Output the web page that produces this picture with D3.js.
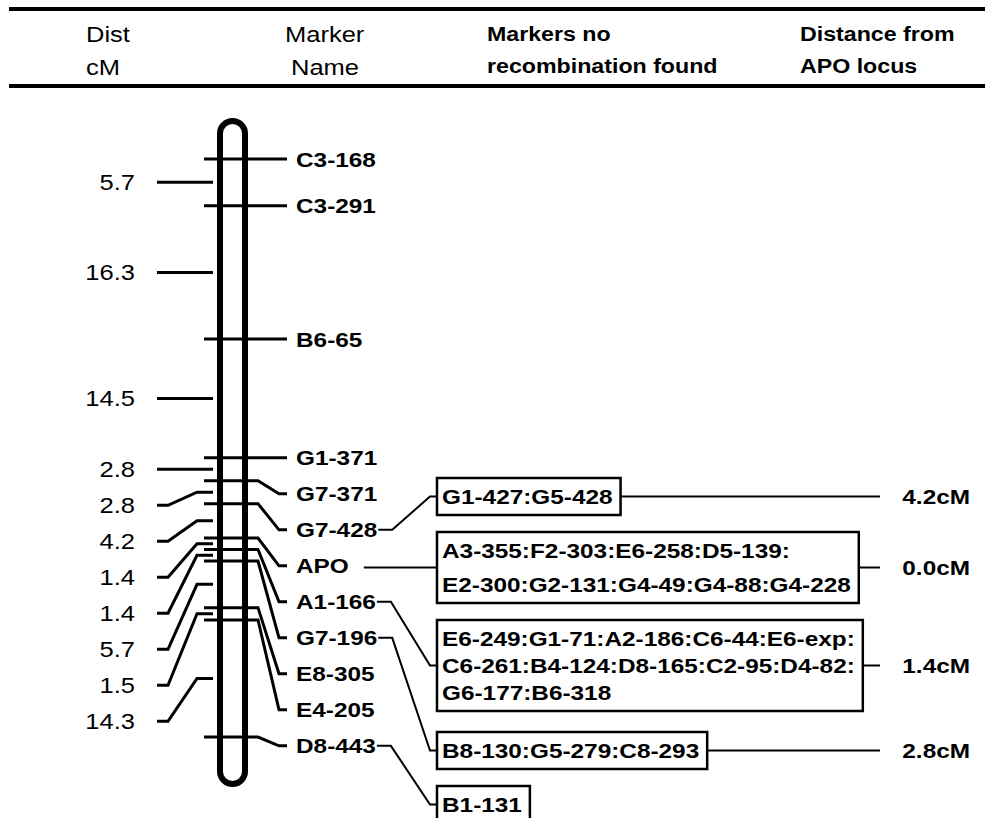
<!DOCTYPE html>
<html><head><meta charset="utf-8">
<script src="https://cdn.jsdelivr.net/npm/d3@7"></script>
<style>body{margin:0;background:#fff} svg{display:block}</style>
</head><body>
<svg id="chart" width="985" height="818"></svg>
<script>
// ---------------- data ----------------
const markerNames = ["C3-168","C3-291","B6-65","G1-371","G7-371","G7-428","APO","A1-166","G7-196","E8-305","E4-205","D8-443"];
const intervalsCM = [5.7,16.3,14.5,2.8,2.8,4.2,1.4,1.4,5.7,1.5,14.3];
const headerLeft = [["Dist","cM"],["Marker","Name"]];
const headerRight = [["Markers no","recombination found"],["Distance from","APO locus"]];
const boxMarkers = ["G7-428","APO","A1-166","G7-196","D8-443"];
const boxTexts = [
  ["G1-427:G5-428"],
  ["A3-355:F2-303:E6-258:D5-139:","E2-300:G2-131:G4-49:G4-88:G4-228"],
  ["E6-249:G1-71:A2-186:C6-44:E6-exp:","C6-261:B4-124:D8-165:C2-95:D4-82:","G6-177:B6-318"],
  ["B8-130:G5-279:C8-293"],
  ["B1-131"]
];
const boxDistances = ["4.2cM","0.0cM","1.4cM","2.8cM",null];

(function () {
// ---------------- setup ----------------
const SX = 1.16;
const FONT = "'Liberation Sans', Arial, Helvetica, sans-serif";
const svg = d3.select("#chart").attr("font-family", FONT);

function txt(s, x, yy, size, weight, anchor) {
  return svg.append("text")
    .attr("transform", `translate(${x},${yy}) scale(${SX},1)`)
    .attr("font-size", size).attr("font-weight", weight)
    .attr("text-anchor", anchor || "start").attr("fill", "#000").text(s);
}
const tw = sel => sel.node().getComputedTextLength() * SX;

// header rules
[9, 86].forEach(yy => svg.append("line").attr("x1", 9).attr("x2", 985).attr("y1", yy).attr("y2", yy)
  .attr("stroke", "#000").attr("stroke-width", 4));
const hxL = [86, 285], hxR = [487, 800];
headerLeft.forEach((h, i) => {
  txt(h[0], hxL[i], 42, 22, "normal");
  txt(h[1], hxL[i] + (i === 1 ? 6 : 0), 75, 22, "normal");
});
headerRight.forEach((h, i) => {
  txt(h[0], hxR[i], 41, 20, "bold");
  txt(h[1], hxR[i], 73, 20, "bold");
});

// scale
const cum = [0, ...d3.cumsum(intervalsCM)];
const total = d3.sum(intervalsCM);
const y = d3.scaleLinear().domain([0, total]).range([159, 737]);
const LBL = 36;

// chromosome
svg.append("rect").attr("x", 220).attr("y", y(0) - 38).attr("width", 25)
  .attr("height", y(total) - y(0) + 85).attr("rx", 12.5)
  .attr("fill", "none").attr("stroke", "#000").attr("stroke-width", 6);

// left interval marks
let prev = -1e9;
const mids = intervalsCM.map((d, i) => (y(cum[i]) + y(cum[i + 1])) / 2);
const leftLbl = mids.map(m => { const v = Math.max(m, prev + LBL); prev = v; return v; });
intervalsCM.forEach((d, i) => {
  const m = mids[i], l = leftLbl[i];
  const p = d3.path();
  if (Math.abs(l - m) < 0.5) { p.moveTo(157, m); p.lineTo(213, m); }
  else { p.moveTo(157, l); p.lineTo(168, l); p.lineTo(197, m); p.lineTo(213, m); }
  svg.append("path").attr("d", p.toString()).attr("fill", "none").attr("stroke", "#000").attr("stroke-width", 3);
  txt(d.toFixed(1), 135, l + 8, 22, "normal", "end");
});

// marker ticks + labels
prev = -1e9;
const pos = cum.map(c => y(c));
const rightLbl = pos.map(p => { const v = Math.max(p, prev + LBL); prev = v; return v; });
const labelEnd = {}, labelY = {};
markerNames.forEach((name, i) => {
  const p0 = pos[i], l = rightLbl[i];
  const p = d3.path();
  if (Math.abs(l - p0) < 0.5) { p.moveTo(204, p0); p.lineTo(287, p0); }
  else { p.moveTo(204, p0); p.lineTo(258, p0); p.lineTo(279, l); p.lineTo(287, l); }
  svg.append("path").attr("d", p.toString()).attr("fill", "none").attr("stroke", "#000").attr("stroke-width", 3);
  const t = txt(name, 296, l + 7.5, 21, "bold");
  labelEnd[name] = 296 + tw(t); labelY[name] = l;
});

// boxes
const BOX_X = 437, GAP = 17;
let boxTop = 478;
boxTexts.forEach((lines, k) => {
  const ls = lines.length > 2 ? 27 : 34;
  const h = 37 + (lines.length - 1) * ls;
  let maxW = 0;
  lines.forEach((s, j) => {
    const t = txt(s, BOX_X + 5, boxTop + 18 + j * ls + 7.5, 21, "bold");
    maxW = Math.max(maxW, tw(t));
  });
  const w = maxW + 13;
  svg.append("rect").attr("x", BOX_X).attr("y", boxTop).attr("width", w).attr("height", h)
    .attr("fill", "none").attr("stroke", "#000").attr("stroke-width", 2.5);
  const mid = boxTop + h / 2;
  const mk = boxMarkers[k];
  const ex = labelEnd[mk], ly = labelY[mk];
  const c = d3.path();
  if (Math.abs(ly - mid) < 6) { c.moveTo(ex + 15, mid); c.lineTo(BOX_X, mid); }
  else { c.moveTo(ex + 1, ly); c.lineTo(ex + 15, ly); c.lineTo(430, mid); c.lineTo(BOX_X, mid); }
  svg.append("path").attr("d", c.toString()).attr("fill", "none").attr("stroke", "#000").attr("stroke-width", 2);
  if (boxDistances[k]) {
    svg.append("line").attr("x1", BOX_X + w).attr("x2", 880).attr("y1", mid).attr("y2", mid)
      .attr("stroke", "#000").attr("stroke-width", 2);
    txt(boxDistances[k], 970, mid + 7.5, 21, "bold", "end");
  }
  boxTop += h + GAP + (k === 2 ? 4 : 0);
});
})();
</script>
</body></html>
